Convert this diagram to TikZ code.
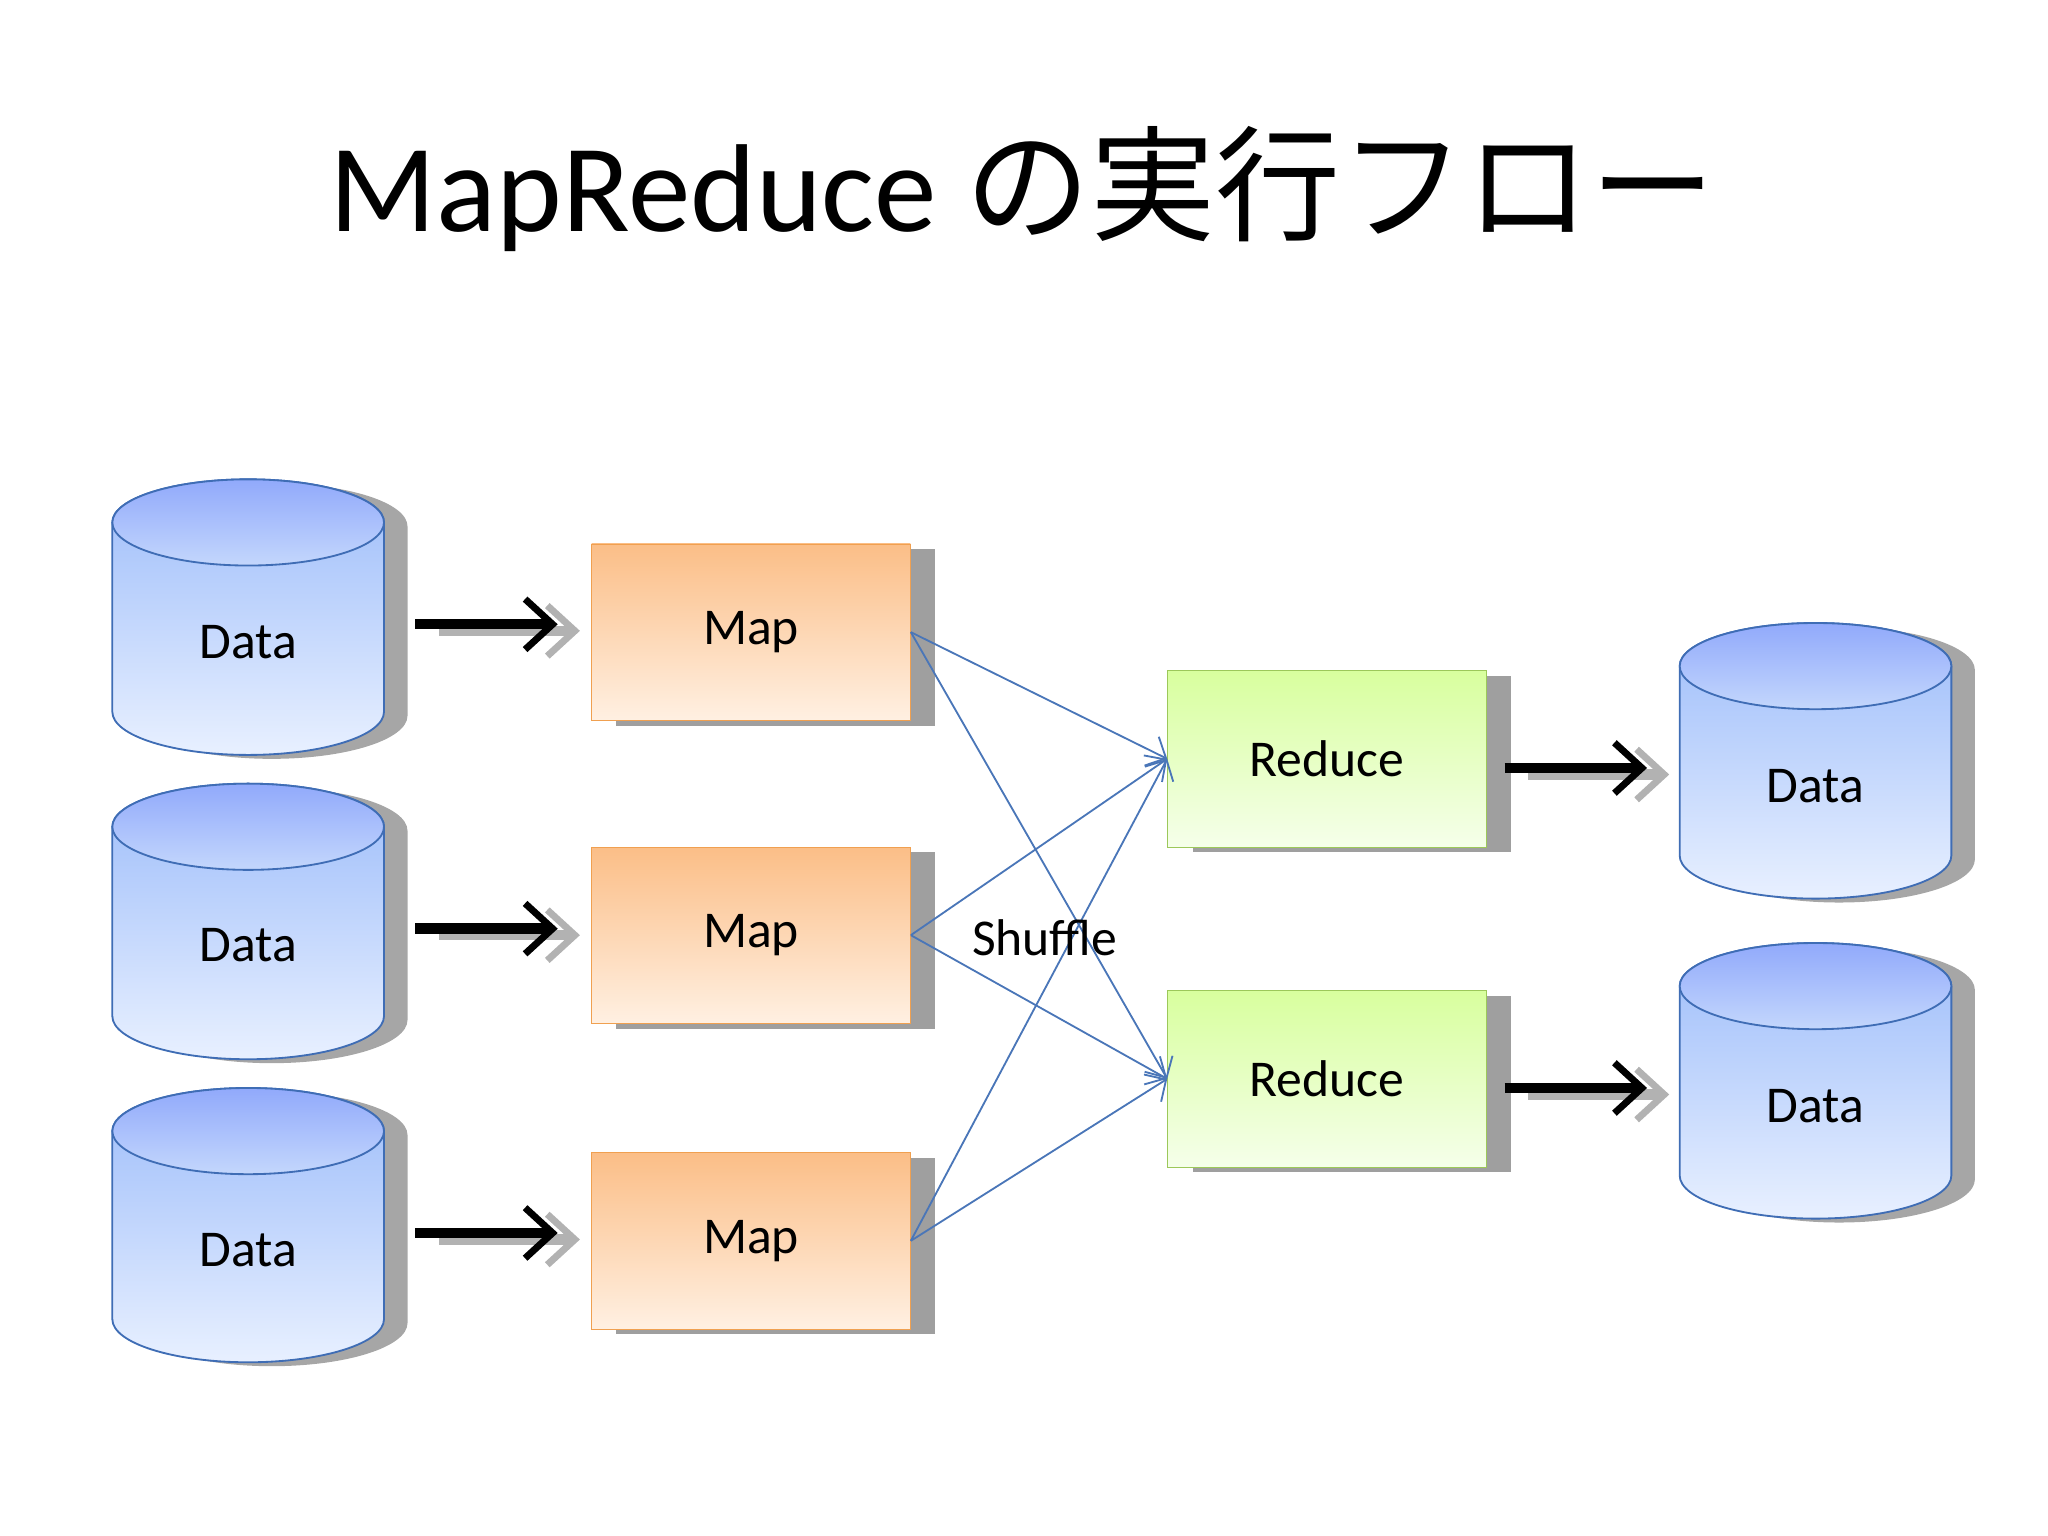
\documentclass[tikz,border=0pt]{standalone}
\usepackage{fontspec}
\setmainfont{Carlito}
\newfontfamily\cjk{Noto Sans CJK JP}
\usetikzlibrary{arrows.meta,shadows}
\definecolor{cylTop}{HTML}{9CBCFA}
\definecolor{cylBot}{HTML}{E8F0FF}
\definecolor{cylLine}{HTML}{3F6DB5}
\definecolor{mapTop}{HTML}{FBBE87}
\definecolor{mapBot}{HTML}{FFF0E2}
\definecolor{mapLine}{HTML}{F0A050}
\definecolor{redTop}{HTML}{D8FF9E}
\definecolor{redBot}{HTML}{F5FFEA}
\definecolor{redLine}{HTML}{9CC85A}
\definecolor{shuf}{HTML}{4A76B8}
\tikzset{
  lbl/.style={font=\fontsize{22.5}{24}\selectfont},
  box/.style={draw, minimum width=244*0.02cm, minimum height=135*0.02cm, lbl,
    drop shadow={shadow xshift=19*0.02cm, shadow yshift=-4*0.02cm, fill=gray!75, opacity=1}},
  mapbox/.style={box, draw=mapLine, top color=mapTop, bottom color=mapBot},
  redbox/.style={box, draw=redLine, top color=redTop, bottom color=redBot},
  flow/.style={line width=4.5pt, -{Straight Barb[length=12pt,width=22pt,line width=3pt]}},
  flowshadow/.style={flow, gray!60},
  shuffle/.style={shuf, line width=0.8pt, -{Straight Barb[length=7pt,width=14pt]}}
}
% #1 name, #2 centre x, #3 top y, #4 bottom y, #5 label y
\newcommand\datacyl[5]{%
  \fill[gray!70, xshift=18*0.02cm, yshift=-3*0.02cm]
    ({#2-104},#3) -- ({#2-104},#4) arc(180:360:104 and 33) -- ({#2+104},#3) arc(0:180:104 and 33) -- cycle;
  \shade[top color=cylTop, bottom color=cylBot, draw=cylLine, line width=0.8pt]
    ({#2-104},#3) -- ({#2-104},#4) arc(180:360:104 and 33) -- ({#2+104},#3) arc(0:180:104 and 33) -- cycle;
  \shade[top color=cylTop!85!blue!90, bottom color=cylTop!60!white, draw=cylLine, line width=0.8pt]
    (#2,#3) ellipse (104 and 33);
  \node[lbl] (#1) at (#2,#5) {Data};
}
\begin{document}
\begin{tikzpicture}[x=0.02cm,y=0.02cm]
\useasboundingbox (0,0) rectangle (1568,1176);
\node[font=\fontsize{54.5}{60}\selectfont] (title) at (783,1031) {MapReduce {\cjk の実行フロー}};

\datacyl{d1}{190}{776}{631}{684}
\datacyl{d2}{190}{543}{398}{452}
\datacyl{d3}{190}{310}{166}{219}
\datacyl{o1}{1390}{666}{521}{574}
\datacyl{o2}{1390}{421}{276}{329}

\node[mapbox] (m1) at (575,692) {Map};
\node[mapbox] (m2) at (575,460) {Map};
\node[mapbox] (m3) at (575,226) {Map};
\node[redbox] (r1) at (1016,595) {Reduce};
\node[redbox] (r2) at (1016,350) {Reduce};

% thick flow arrows with grey shadows
\foreach \y/\n in {698/1,465/2,232/3}{
  \coordinate (as\n) at (336,\y-5);
  \coordinate (ae\n) at (444,\y-5);
  \draw[flowshadow] (as\n) -- (ae\n);
  \coordinate (bs\n) at (318,\y);
  \coordinate (be\n) at (427,\y);
  \draw[flow] (bs\n) -- (be\n);
}
\foreach \y/\n in {588/1,343/2}{
  \coordinate (cs\n) at (1170,\y-5);
  \coordinate (ce\n) at (1278,\y-5);
  \draw[flowshadow] (cs\n) -- (ce\n);
  \coordinate (ds\n) at (1152,\y);
  \coordinate (de\n) at (1261,\y);
  \draw[flow] (ds\n) -- (de\n);
}

% shuffle
\foreach \m in {m1,m2,m3}{
  \draw[shuffle] (\m.east) -- (r1.west);
  \draw[shuffle] (\m.east) -- (r2.west);
}
\node[lbl, anchor=west] (shuf) at (738,458) {Shuffle};
\end{tikzpicture}
\end{document}
